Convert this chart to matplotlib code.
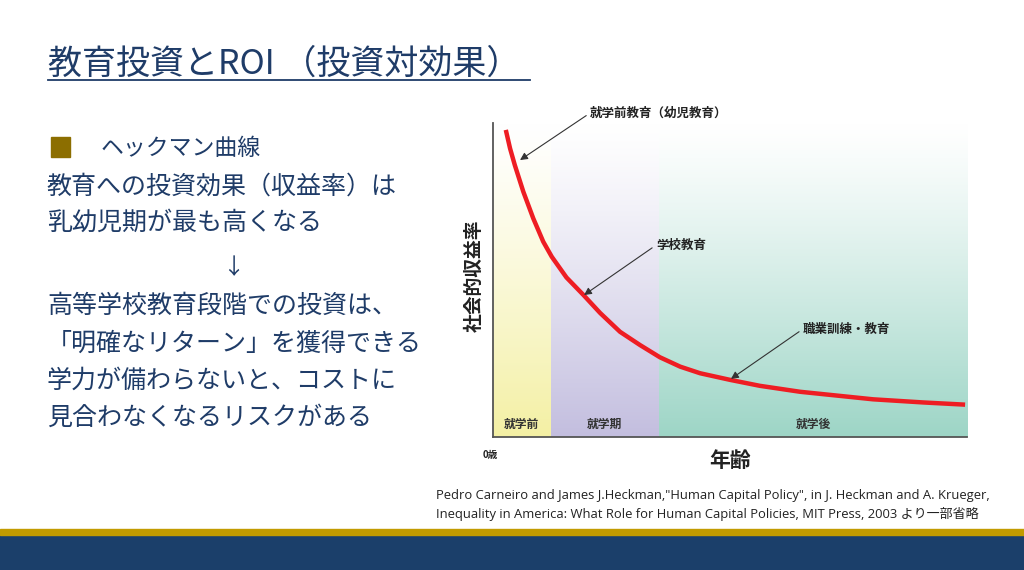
import numpy as np
import matplotlib.pyplot as plt
from matplotlib.patches import Rectangle

plt.rcParams['font.family'] = ['Noto Sans CJK JP', 'DejaVu Sans']

W, H = 1024, 570

# data (x: age scale 0-100, y: return 0-100)
curve_x = [2.7, 3.6, 4.6, 6.4, 8.5, 10.6, 12.4, 15.5, 19.1, 22.6, 26.8, 31.0,
           35.2, 39.5, 43.7, 50.0, 56.3, 64.8, 80.2, 90.8, 99.6]
curve_y = [97.8, 91.9, 86.6, 78.1, 69.6, 62.2, 57.4, 50.8, 45.2, 39.5, 33.5, 29.3,
           25.4, 22.4, 20.3, 18.2, 16.3, 14.4, 12.0, 11.0, 10.3]

zone_edges = [0, 12.2, 35.0, 100]
zone_names = ['就学前', '就学期', '就学後']
zone_colors = ['#f4f0a4', '#c3bedf', '#9dd5c6']

notes = ['就学前教育（幼児教育）', '学校教育', '職業訓練・教育']
note_tip = [(5.7, 88.2), (19.2, 45.2), (50.2, 18.5)]
note_txt = [(20.5, 103.2), (34.4, 61.1), (65.4, 34.4)]

body = ['教育への投資効果（収益率）は', '乳幼児期が最も高くなる']
body2 = ['高等学校教育段階での投資は、', '「明確なリターン」を獲得できる',
         '学力が備わらないと、コストに', '見合わなくなるリスクがある']


def px(x, y):
    return x / W, 1 - y / H


navy = '#1f3c68'

fig = plt.figure(figsize=(W / 100, H / 100), dpi=100)

# slide title
fig.text(*px(48, 64), '教育投資とROI （投資対効果）', fontsize=24.5, color=navy, va='center')
fig.add_artist(plt.Line2D([48 / W, 530 / W], [1 - 80 / H] * 2, color=navy, lw=1.3))

# bullet text
fig.add_artist(Rectangle(px(51, 157), 19 / W, 20 / H, color='#8c6e00'))
fig.text(*px(101, 148), 'ヘックマン曲線', fontsize=16.5, color=navy, va='center')
for i, s in enumerate(body):
    fig.text(*px(47, 187 + i * 36), s, fontsize=18, color=navy, va='center')
fig.text(*px(233, 268), '↓', fontsize=16, color=navy, va='center', ha='center')
for i, s in enumerate(body2):
    fig.text(*px(47, 306 + i * 37.3), s, fontsize=18, color=navy, va='center')

# chart
ax = fig.add_axes([493 / W, 1 - 437 / H, 474 / W, 314 / H])
ax.set_xlim(0, 100)
ax.set_ylim(0, 100)
grad = np.linspace(0, 1, 256) ** 1.2
for i in range(3):
    c = np.array(plt.matplotlib.colors.to_rgb(zone_colors[i]))
    img = 1 - grad[:, None, None] * (1 - c[None, None, :])
    ax.imshow(img, extent=[zone_edges[i], zone_edges[i + 1], 0, 100],
              aspect='auto', origin='upper', zorder=0)
    ax.text((zone_edges[i] + zone_edges[i + 1]) / 2, 4.1, zone_names[i],
            fontsize=8.5, fontweight='bold', color='#333333', ha='center', va='center')

ax.plot(curve_x, curve_y, color='#ee1d23', lw=3.2, solid_capstyle='butt',
        solid_joinstyle='round', zorder=3)

for s, tip, t in zip(notes, note_tip, note_txt):
    ax.annotate(s, xy=tip, xytext=t, fontsize=9, fontweight='bold', color='#222222',
                ha='left', va='center', annotation_clip=False,
                arrowprops=dict(arrowstyle='-|>', color='#333333', lw=0.8,
                                mutation_scale=11, relpos=(0, 0.5), shrinkA=1, shrinkB=0))

for side in ['top', 'right']:
    ax.spines[side].set_visible(False)
for side in ['left', 'bottom']:
    ax.spines[side].set_color('#555555')
    ax.spines[side].set_linewidth(1.3)
ax.set_xticks([])
ax.set_yticks([])

fig.text(*px(474, 276), '社会的収益率', rotation=90, fontsize=13.5, fontweight='bold',
         color='#222222', ha='center', va='center')
fig.text(*px(730, 460), '年齢', fontsize=15, fontweight='bold', color='#222222',
         ha='center', va='center')
fig.text(*px(490, 455), '0歳', fontsize=7, fontweight='bold', color='#222222',
         ha='center', va='center')

# citation
cite = ['Pedro Carneiro and James J.Heckman,"Human Capital Policy", in J. Heckman and A. Krueger,',
        'Inequality in America: What Role for Human Capital Policies, MIT Press, 2003 より一部省略']
for i, s in enumerate(cite):
    fig.text(*px(436, 495 + i * 19), s, fontsize=9.4, color='#222222', va='center',
             family=['Open Sans', 'Noto Sans CJK JP'])

# footer band
fig.add_artist(Rectangle((0, 0), 1, 35 / H, color='#1b3f6a'))
fig.add_artist(Rectangle((0, 35 / H), 1, 6 / H, color='#c29b00'))

fig.savefig('out.png', dpi=100)
